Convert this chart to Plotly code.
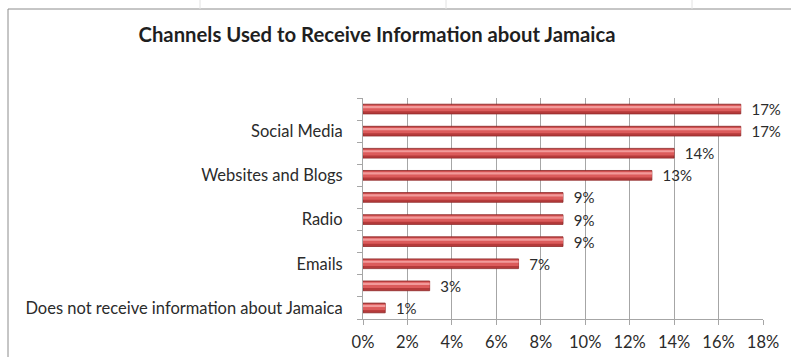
import plotly.graph_objects as go

# Shares of respondents per channel, listed from the bottom bar to the top bar
values = [1, 3, 7, 9, 9, 9, 13, 14, 17, 17]
# Category labels shown on the axis (every other bar is labelled)
tick_labels = [
    "Does not receive information about Jamaica", "",
    "Emails", "",
    "Radio", "",
    "Websites and Blogs", "",
    "Social Media", "",
]
x_ticks = [0, 2, 4, 6, 8, 10, 12, 14, 16, 18]
title = "Channels Used to Receive Information about Jamaica"

positions = list(range(len(values)))

W, H = 791, 357
L, R, T, B = 363, 28, 98, 38
plot_w = W - L - R
plot_h = H - T - B

fig = go.Figure()

# Bar body (darker rim), then a lighter band and a highlight stripe for a rounded look
fig.add_trace(go.Bar(
    x=values, y=positions, orientation="h",
    width=0.44, offset=-0.22,
    marker=dict(color="#B53A3A", line=dict(color="#8E2A2A", width=0.8)),
    text=[f"{v}%" for v in values], textposition="outside",
    constraintext="none",
    texttemplate="  %{text}",
    textfont=dict(family="Lato", size=15, color="#2B2B2B"),
    cliponaxis=False, hoverinfo="skip", showlegend=False,
))
fig.add_trace(go.Bar(
    x=values, y=positions, orientation="h",
    width=0.28, offset=-0.10,
    marker=dict(color="#DC5B5B", line=dict(width=0)),
    hoverinfo="skip", showlegend=False,
))
fig.add_trace(go.Bar(
    x=values, y=positions, orientation="h",
    width=0.10, offset=0.04,
    marker=dict(color="#F29A9A", line=dict(width=0)),
    hoverinfo="skip", showlegend=False,
))

axis_grey = "#A6A6A6"

fig.update_layout(
    width=W, height=H,
    margin=dict(l=L, r=R, t=T, b=B, pad=0, autoexpand=False),
    paper_bgcolor="white", plot_bgcolor="white",
    barmode="overlay",
    font=dict(family="Lato", size=16.5, color="#2B2B2B"),
    title=dict(
        text=f"<b>{title}</b>",
        font=dict(family="Lato", size=20.3, color="#1F1F1F"),
        xref="container", yref="container",
        x=377 / W, xanchor="center",
        y=1 - 35 / H, yanchor="middle",
    ),
    xaxis=dict(
        range=[0, 18], tickvals=x_ticks,
        ticktext=[f"{v}%" for v in x_ticks],
        showgrid=True, gridcolor=axis_grey, gridwidth=1,
        showline=True, linecolor=axis_grey, linewidth=1,
        ticks="outside", ticklen=5, tickcolor=axis_grey,
        ticklabelstandoff=3, automargin=False,
        zeroline=False, tickfont=dict(size=16.5),
    ),
    yaxis=dict(
        range=[-0.5, len(values) - 0.5],
        tickvals=positions, ticktext=tick_labels,
        ticks="", showgrid=False, zeroline=False,
        showline=True, linecolor=axis_grey, linewidth=1,
        ticklabelstandoff=16, automargin=False,
        tickfont=dict(size=16.5),
        minor=dict(
            tickvals=[p - 0.5 for p in positions] + [len(values) - 0.5],
            ticks="outside", ticklen=5, tickcolor=axis_grey, showgrid=False,
        ),
    ),
)

# Chart frame: left and top edges visible, right and bottom run off the canvas
fig.add_shape(
    type="rect", xref="paper", yref="paper",
    x0=(8 - L) / plot_w, x1=1.5,
    y0=-1.0, y1=(H - B - 9) / plot_h,
    line=dict(color="#8C8C8C", width=1), fillcolor="rgba(0,0,0,0)",
    layer="below",
)
# Faint sheet cell lines above the frame
for px in (200, 446, 692):
    fig.add_shape(
        type="line", xref="paper", yref="paper",
        x0=(px - L) / plot_w, x1=(px - L) / plot_w,
        y0=(H - B - 9) / plot_h, y1=(H - B) / plot_h + 0.2,
        line=dict(color="#E2E2E2", width=1), layer="below",
    )

fig.write_html("out.html")
